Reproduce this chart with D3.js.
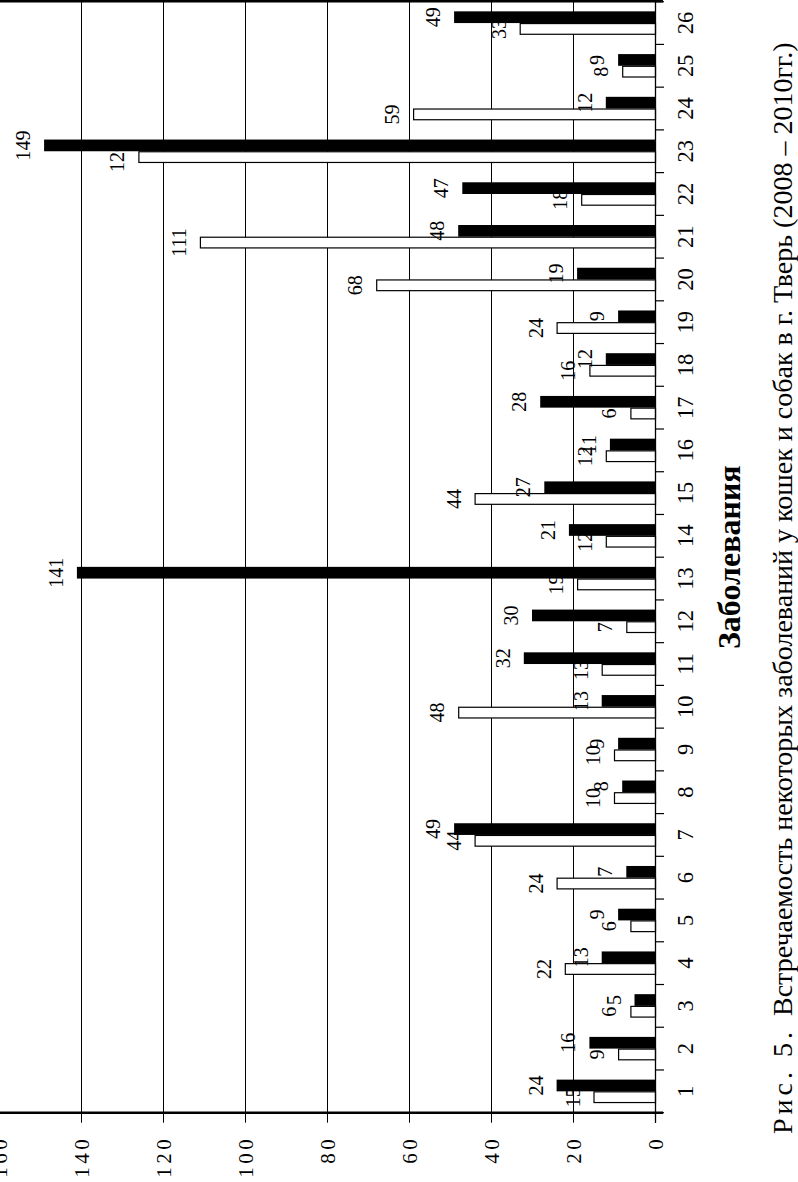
<!DOCTYPE html>
<html>
<head>
<meta charset="utf-8">
<script src="https://cdn.jsdelivr.net/npm/d3@7"></script>
<style>
  html, body { margin: 0; padding: 0; background: #fff; }
  svg { display: block; }
  text { font-family: "Liberation Serif", "Times New Roman", serif; fill: #000; }
</style>
</head>
<body>
<svg id="chart" width="798" height="1182"></svg>
<script>
// ---- data ----
const categories = ["1","2","3","4","5","6","7","8","9","10","11","12","13","14","15","16","17","18","19","20","21","22","23","24","25","26"];
const seriesWhite = [15, 9, 6, 22, 6, 24, 44, 10, 10, 48, 13, 7, 19, 12, 44, 12, 6, 16, 24, 68, 111, 18, 126, 59, 8, 33];
const seriesBlack = [24, 16, 5, 13, 9, 7, 49, 8, 9, 13, 32, 30, 141, 21, 27, 11, 28, 12, 9, 19, 48, 47, 149, 12, 9, 49];
const valueTicks = [0, 20, 40, 60, 80, 100, 120, 140, 160];
const axisTitle = "Заболевания";
const captionHead = "Рис. 5.";
const captionBody = "Встречаемость некоторых заболеваний у кошек и собак в г. Тверь (2008 – 2010гг.)";

// ---- layout ----
const svg = d3.select("#chart");
const plotLeft = 0, plotRight = 655, plotTop = 1.7, plotBottom = 1112.7;

const x = d3.scaleLinear().domain([0, 160]).range([plotRight, plotLeft - 1]);
const y = d3.scaleBand().domain(categories.slice().reverse()).range([plotTop, plotBottom]).paddingInner(0).paddingOuter(0);
const bw = y.bandwidth();
const barT = bw * 0.274;

// gridlines
svg.append("g").selectAll("line").data(valueTicks.filter(v => v > 0)).join("line")
  .attr("x1", d => Math.round(x(d)) + 0.5).attr("x2", d => Math.round(x(d)) + 0.5)
  .attr("y1", plotTop).attr("y2", plotBottom)
  .attr("stroke", "#000").attr("stroke-width", 1);

// top border
svg.append("line").attr("x1", 0).attr("x2", plotRight + 8)
  .attr("y1", 1.2).attr("y2", 1.2).attr("stroke", "#000").attr("stroke-width", 2.4);

const rows = categories.map((c, i) => ({ c, w: seriesWhite[i], b: seriesBlack[i] }));
const center = c => y(c) + bw / 2;

// white bars + labels
svg.append("g").selectAll("rect").data(rows).join("rect")
  .attr("x", d => x(d.w) + 0.5).attr("y", d => center(d.c) + 0.5)
  .attr("width", d => plotRight - x(d.w)).attr("height", barT - 1)
  .attr("fill", "#fff").attr("stroke", "#000").attr("stroke-width", 1.2);

const labelFont = 20, labelGap = 14;
svg.append("g").selectAll("text").data(rows).join("text")
  .attr("transform", d => `translate(${x(d.w) - labelGap},${center(d.c) + barT / 2}) rotate(-90)`)
  .attr("text-anchor", "middle").style("font-size", labelFont + "px")
  .text(d => d.w);

// black bars + labels
svg.append("g").selectAll("rect").data(rows).join("rect")
  .attr("x", d => x(d.b)).attr("y", d => center(d.c) - barT)
  .attr("width", d => plotRight - x(d.b)).attr("height", barT)
  .attr("fill", "#000");

svg.append("g").selectAll("text").data(rows).join("text")
  .attr("transform", d => `translate(${x(d.b) - labelGap},${center(d.c) - barT / 2}) rotate(-90)`)
  .attr("text-anchor", "middle").style("font-size", labelFont + "px")
  .text(d => d.b);

// value axis (horizontal, bottom)
const xAxis = svg.append("g").attr("transform", `translate(0,${plotBottom})`)
  .call(d3.axisBottom(x).tickValues(valueTicks).tickSize(10).tickSizeOuter(0).tickFormat(d3.format("d")));
xAxis.select(".domain").attr("d", `M0,0H${plotRight + 8}`).attr("stroke", "#000").attr("stroke-width", 2.4);
xAxis.selectAll(".tick line").attr("stroke", "#000").attr("stroke-width", 1);
xAxis.selectAll(".tick text")
  .attr("transform", "translate(7,23) rotate(-90)")
  .attr("x", 0).attr("y", 0).attr("dy", 0)
  .attr("text-anchor", "end")
  .style("font-size", "21px").style("letter-spacing", "3.5px")
  .style("font-family", "'Liberation Serif', 'Times New Roman', serif");

// category axis (vertical, right)
const yAxis = svg.append("g").attr("transform", `translate(${plotRight},0)`)
  .call(d3.axisRight(y).tickSize(0).tickPadding(0));
yAxis.select(".domain").attr("d", `M0.5,${plotTop}V${plotBottom + 10}`).attr("stroke", "#000").attr("stroke-width", 1.3);
yAxis.selectAll(".tick text")
  .attr("x", 0).attr("dy", 0)
  .attr("transform", "translate(38,0) rotate(-90)")
  .attr("text-anchor", "middle")
  .style("font-size", "22.5px")
  .style("font-family", "'Liberation Serif', 'Times New Roman', serif");
// boundary tick marks between categories
const bounds = categories.map(c => y(c)).concat([plotBottom]);
svg.append("g").selectAll("line").data(bounds).join("line")
  .attr("x1", plotRight).attr("x2", plotRight + 9)
  .attr("y1", d => d).attr("y2", d => d)
  .attr("stroke", "#000").attr("stroke-width", 1.2);

// axis title
svg.append("text")
  .attr("transform", `translate(740,${(plotTop + plotBottom) / 2}) rotate(-90)`)
  .attr("text-anchor", "middle")
  .style("font-size", "32px").style("font-weight", "bold")
  .text(axisTitle);

// caption
const cap = svg.append("text")
  .attr("transform", `translate(792,1134) rotate(-90)`)
  .attr("text-anchor", "start")
  .style("font-size", "28px");
cap.append("tspan").style("letter-spacing", "4px").text(captionHead);
cap.append("tspan").attr("dx", 12).text(captionBody);
</script>
</body>
</html>
